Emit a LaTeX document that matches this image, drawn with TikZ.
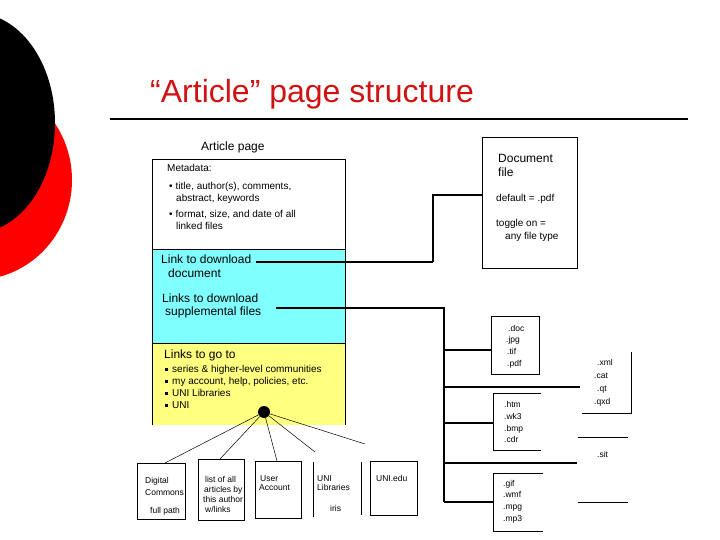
\documentclass[tikz,border=0pt]{standalone}
\usepackage{fontspec}
\setmainfont{Liberation Sans}
\definecolor{titlered}{RGB}{208,18,18}
\definecolor{linkcyan}{RGB}{128,255,255}
\definecolor{golden}{RGB}{255,255,128}
\newcommand{\sqb}{\rule[1bp]{3bp}{3bp}\hspace{4bp}}
\begin{document}
\begin{tikzpicture}[x=1bp,y=-1bp,
  txt/.style={font=\fontsize{10bp}{12bp}\selectfont, anchor=base west, inner sep=0pt},
  sml/.style={font=\fontsize{8.5bp}{10bp}\selectfont, anchor=base west, inner sep=0pt},
  big/.style={font=\fontsize{12bp}{14bp}\selectfont, anchor=base west, inner sep=0pt},
  box/.style={draw, line width=0.8bp, inner sep=0pt, anchor=north west},
  area/.style={inner sep=0pt, anchor=north west},
  edge/.style={line width=0.8bp},
  thicklink/.style={line width=2.2bp},
  thinlink/.style={line width=1.1bp},
  branch/.style={line width=2.6bp},
  fan/.style={line width=0.5bp}]
\useasboundingbox (0,0) rectangle (720,540);
% decorative shapes on the left
\begin{scope}
  \clip (0,0) rectangle (720,540);
  \fill[red] (-25,180) ellipse [x radius=97, y radius=100];
  \fill[black] (-25,123) ellipse [x radius=80, y radius=110];
\end{scope}
% title
\node[anchor=base west, inner sep=0pt, text=titlered, font=\fontsize{32bp}{36bp}\selectfont] (title) at (150,103) {“Article” page structure};
\coordinate (rulel) at (110,119);
\coordinate (ruler) at (688,119);
\draw[line width=2.5bp] (rulel) -- (ruler);

% article page
\node[big] (ptitle) at (201,151) {Article page};
\node[area, fill=white, minimum width=193bp, minimum height=90bp] (meta) at (152,159) {};
\node[area, fill=linkcyan, minimum width=193bp, minimum height=94bp] (links) at (152,249) {};
\node[area, fill=golden, minimum width=193bp, minimum height=82bp] (goto) at (152,343) {};
\draw[edge] (goto.south west) -- (meta.north west) -- (meta.north east) -- (goto.north east |- goto.south east);
\draw[edge] (meta.south west) -- (meta.south east);
\draw[edge] (links.south west) -- (links.south east);

\node[txt] (m0) at (167,172) {Metadata:};
\node[txt] (m1) at (169,190) {•\hspace{3bp}title, author(s), comments,};
\node[txt] (m2) at (176,202) {abstract, keywords};
\node[txt] (m3) at (169,218) {•\hspace{3bp}format, size, and date of all};
\node[txt] (m4) at (176,230) {linked files};

\node[big] (l1) at (161,264) {Link to download};
\node[big] (l2) at (168,278) {document};
\node[big] (l3) at (162,302) {Links to download};
\node[big] (l4) at (165,315) {supplemental files};

\node[big] (g0) at (164,358) {Links to go to};
\node[txt] (g1) at (165,372) {\sqb series \& higher-level communities};
\node[txt] (g2) at (165,384) {\sqb my account, help, policies, etc.};
\node[txt] (g3) at (165,396) {\sqb UNI Libraries};
\node[txt] (g4) at (165,408) {\sqb UNI};
\node[circle, fill=black, minimum size=12bp, inner sep=0pt] (dot) at (264,412) {};

% document file box
\node[box, minimum width=95bp, minimum height=131bp] (doc) at (482,137) {};
\node[big] (d1) at (498,163) {Document};
\node[big] (d2) at (498,177) {file};
\node[txt] (d3) at (496,202) {default = .pdf};
\node[txt] (d4) at (496,227) {toggle on =};
\node[txt] (d5) at (505,240) {any file type};

\coordinate (la) at (256,262);
\coordinate (lb) at (433,262);
\coordinate (lc) at (433,195);
\coordinate (docin) at (482,195);
\draw[thicklink] (la) -- (lb);
\draw[thinlink] (lb) -- (lc) -- (docin);

% supplemental files
\coordinate (sa) at (276,308);
\coordinate (sb) at (444,308);
\coordinate (sc) at (444,502);
\draw[thinlink] (sa) -- (sb) -- (sc);

\node[box, minimum width=48bp, minimum height=58bp] (f1) at (491,316) {};
\node[sml] at (508,331) {.doc};
\node[sml] at (506,342) {.jpg};
\node[sml] at (507,354) {.tif};
\node[sml] at (507,366) {.pdf};
\coordinate (b1) at (444,350);
\draw[branch] (b1) -- (b1 -| f1.west);

\node[area, minimum width=49bp, minimum height=61bp] (f2) at (582,352) {};
\draw[edge] (f2.north east) -- (f2.south east) -- (f2.south west);
\node[sml] at (597,365) {.xml};
\node[sml] at (594,378) {.cat};
\node[sml] at (597,391) {.qt};
\node[sml] at (594,404) {.qxd};
\coordinate (b2) at (444,387);
\coordinate (b2e) at (580,387);
\draw[branch] (b2) -- (b2e);

\node[area, minimum width=48bp, minimum height=57bp] (f3) at (493,393) {};
\draw[edge] (f3.north east) -- (f3.north west) -- (f3.south west) -- (f3.south east);
\node[sml] at (504,407) {.htm};
\node[sml] at (504,419) {.wk3};
\node[sml] at (504,431) {.bmp};
\node[sml] at (504,442) {.cdr};
\coordinate (b3) at (444,423);
\draw[branch] (b3) -- (b3 -| f3.west);

\node[area, minimum width=50bp, minimum height=65bp] (f5) at (578,437) {};
\draw[edge] (f5.north west) -- (f5.north east);
\draw[edge] (f5.south west) -- (f5.south east);
\node[sml] at (597,457) {.sit};
\coordinate (b5) at (444,463);
\coordinate (b5e) at (577,463);
\draw[branch] (b5) -- (b5e);

\node[area, minimum width=50bp, minimum height=58bp] (f4) at (493,473) {};
\draw[edge] (f4.north east) -- (f4.north west) -- (f4.south west) -- (f4.south east);
\node[sml] at (503,486) {.gif};
\node[sml] at (503,497) {.wmf};
\node[sml] at (503,509) {.mpg};
\node[sml] at (503,521) {.mp3};
\draw[branch] (sc) -- (sc -| f4.west);

% bottom boxes
\node[box, minimum width=48bp, minimum height=56bp] (ba) at (137,463) {};
\node[sml] at (145,483) {Digital};
\node[sml] at (145,495) {Commons};
\node[sml] at (150,513) {full path};

\node[box, minimum width=46bp, minimum height=61bp] (bb) at (198,459) {};
\node[sml] at (205,482) {list of all};
\node[sml] at (204,492) {articles by};
\node[sml] at (203,502) {this author};
\node[sml] at (205,512) {w/links};

\node[box, minimum width=46bp, minimum height=57bp] (bc) at (255,461) {};
\node[sml] at (260,481) {User};
\node[sml] at (259,490) {Account};

\node[area, minimum width=45bp, minimum height=55bp] (bd) at (313,462) {};
\draw[edge] (bd.north west) -- (bd.south west);
\node[sml] at (317,481) {UNI};
\node[sml] at (317,490) {Libraries};
\node[sml] at (330,511) {iris};

\coordinate (bet) at (361,462);
\coordinate (beb) at (361,515);
\draw[edge] (bet) -- (beb);
\node[box, minimum width=47bp, minimum height=54bp] (be) at (370,461) {};
\node[sml] at (376,481) {UNI.edu};

\coordinate (ea) at (165,463);
\coordinate (eb) at (220,459);
\coordinate (ec) at (277,461);
\coordinate (ed) at (315,452);
\coordinate (ee) at (365,444);
\foreach \t in {ea,eb,ec,ed,ee} \draw[fan] (dot) -- (\t);
\end{tikzpicture}
\end{document}
